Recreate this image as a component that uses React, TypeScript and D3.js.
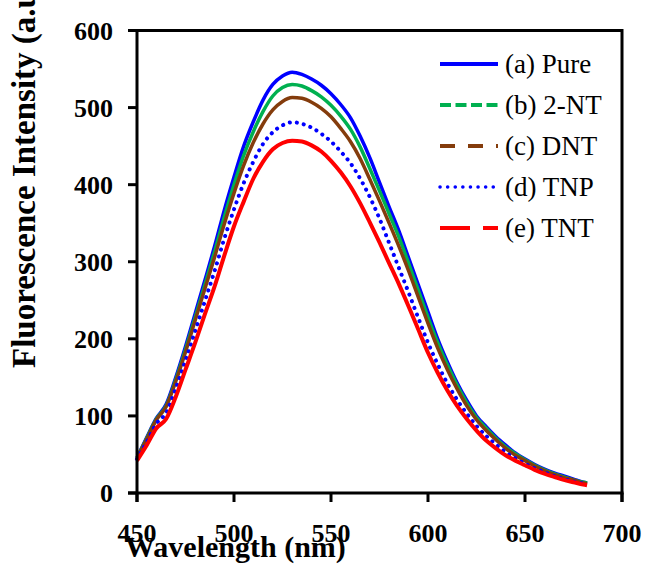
import React from "react";
import * as d3 from "d3";

const wavelengths = [450,455,460,465,470,475,480,485,490,495,500,505,510,515,520,525,530,535,540,545,550,555,560,565,570,575,580,585,590,595,600,605,610,615,620,625,630,635,640,645,650,655,660,665,670,675,680,682];

const pure = [46,72,97,115,150,190,233,276,320,367,410,450,482,510,530,541,546,543,537,529,518,504,487,463,435,403,371,340,305,270,235,200,170,143,120,100,86,73,62,52,44,37,31,26,22,18,14,13];
const nt2 = [45,71,96,113,147,186,228,270,313,358,400,438,469,495,515,526,530,528,522,514,503,489,472,449,421,392,362,332,298,263,228,195,166,140,117,98,84,71,60,51,43,36,30,25,21,17,14,13];
const dnt = [45,70,95,112,145,183,224,265,306,349,389,425,455,479,497,508,513,512,507,499,488,473,456,434,407,379,350,320,288,254,220,188,160,135,113,95,81,69,58,49,42,35,29,24,20,17,13,12];
const tnp = [44,66,90,104,136,172,210,249,288,330,368,402,430,453,468,477,481,479,474,466,456,443,428,408,384,356,324,292,260,227,195,167,142,121,103,87,74,63,53,45,38,32,27,22,18,15,12,11];
const tnt = [42,62,84,96,125,160,195,232,268,308,346,378,408,430,446,454,457,456,451,443,431,416,398,376,351,325,298,271,242,212,182,156,133,113,96,81,68,58,49,42,36,30,25,21,17,14,11,10];

const seriesNames = ["(a) Pure", "(b) 2-NT", "(c) DNT", "(d) TNP", "(e) TNT"];
const seriesValues = [pure, nt2, dnt, tnp, tnt];
const seriesColors = ["#0000FF", "#00B050", "#843C0C", "#0000FF", "#FF0000"];
const legendDash = ["none", "11 4.5", "15 13", "0.1 7.5", "30 13"];
const plotDash = ["none", "none", "none", "0.1 7", "none"];
const seriesWidth = [3.5, 3.5, 3.5, 4, 4];
const seriesCap = ["butt", "butt", "butt", "round", "butt"];

const xTicks = [450, 500, 550, 600, 650, 700];
const yTicks = [0, 100, 200, 300, 400, 500, 600];

export default function App() {
  const W = 646, H = 565;
  const x = d3.scaleLinear().domain([450, 700]).range([137, 622]);
  const y = d3.scaleLinear().domain([0, 600]).range([493, 30.5]);
  const line = d3.line<number>().x((_, i) => x(wavelengths[i])).y((d) => y(d)).curve(d3.curveMonotoneX);
  const serif = "'Liberation Serif', 'Times New Roman', serif";

  return (
    <div style={{ position: "absolute", left: 0, top: 0 }}>
      <svg width={W} height={H} style={{ display: "block", background: "#fff" }}>
        {seriesValues.map((vals, k) => (
          <path key={k} d={line(vals) || ""} fill="none" stroke={seriesColors[k]}
            strokeWidth={seriesWidth[k]} strokeDasharray={plotDash[k]}
            strokeLinecap={seriesCap[k] as any} strokeLinejoin="round" />
        ))}
        {/* frame */}
        <line x1={x(450)} x2={x(700)} y1={y(600)} y2={y(600)} stroke="#000" strokeWidth={3} />
        <line x1={x(700)} x2={x(700)} y1={y(600) - 1.5} y2={y(0) + 9} stroke="#000" strokeWidth={3} />
        <line x1={x(450)} x2={x(450)} y1={y(600) - 1.5} y2={y(0) + 9} stroke="#000" strokeWidth={3} />
        <line x1={x(450) - 9} x2={x(700) + 1.5} y1={y(0)} y2={y(0)} stroke="#000" strokeWidth={3} />
        {yTicks.map((t) => (
          <g key={t}>
            <line x1={x(450) - 9} x2={x(450)} y1={y(t)} y2={y(t)} stroke="#000" strokeWidth={3} />
            <text x={113} y={y(t) + 9} textAnchor="end" fontFamily={serif} fontWeight="bold" fontSize={26}>{t}</text>
          </g>
        ))}
        {xTicks.map((t) => (
          <g key={t}>
            <line x1={x(t)} x2={x(t)} y1={y(0)} y2={y(0) + 9} stroke="#000" strokeWidth={3} />
            <text x={x(t)} y={542} textAnchor="middle" fontFamily={serif} fontWeight="bold" fontSize={26}>{t}</text>
          </g>
        ))}
        <text x={125} y={557} fontFamily={serif} fontWeight="bold" fontSize={30}>Wavelength (nm)</text>
        <text transform="translate(35,368) rotate(-90)" fontFamily={serif} fontWeight="bold" fontSize={33}>Fluorescence Intensity (a.u.)</text>
        {seriesNames.map((name, k) => {
          const ly = 64 + k * 41;
          return (
            <g key={name}>
              <line x1={440} x2={498} y1={ly} y2={ly} stroke={seriesColors[k]} strokeWidth={k === 3 ? 3.5 : 4}
                strokeDasharray={legendDash[k]} strokeLinecap={seriesCap[k] as any} />
              <text x={505} y={ly + 9} fontFamily={serif} fontSize={27}>{name}</text>
            </g>
          );
        })}
      </svg>
    </div>
  );
}
